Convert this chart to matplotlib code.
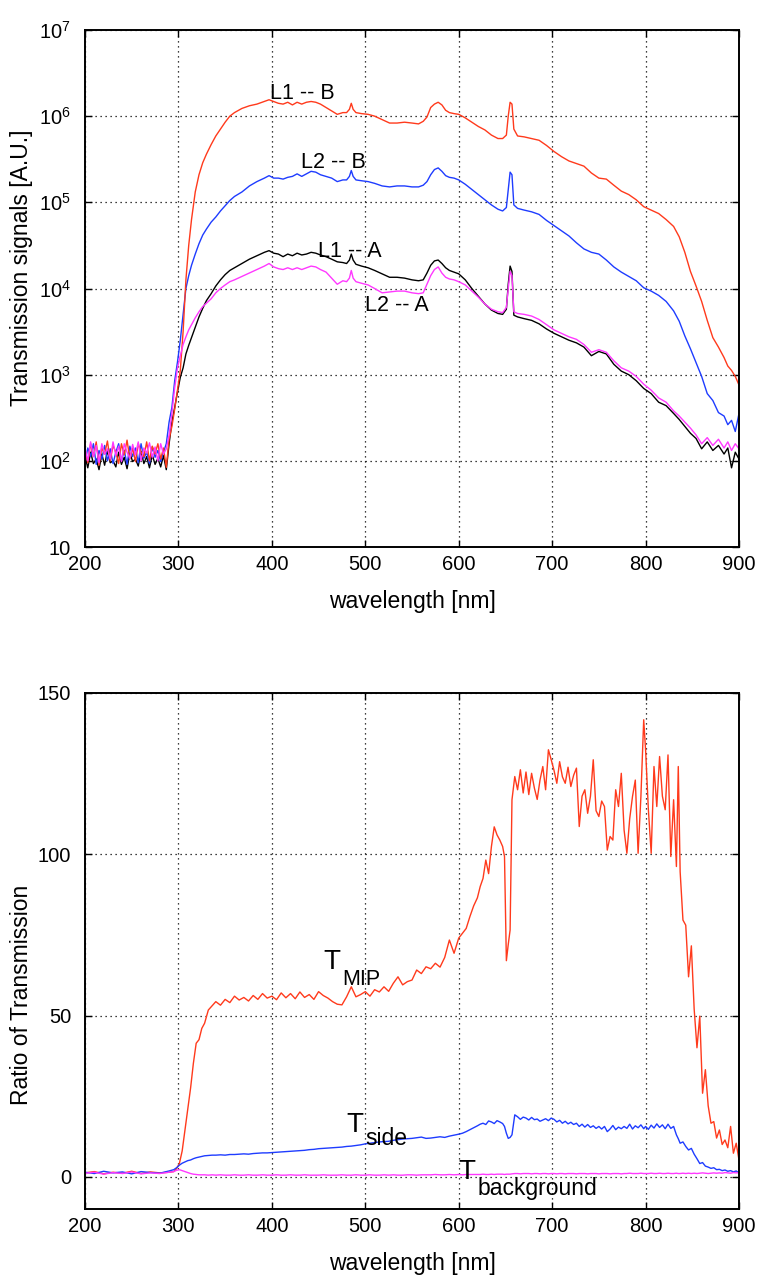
import matplotlib
matplotlib.use("Agg")
import matplotlib.pyplot as plt

plt.rcParams['font.family'] = ['Liberation Sans', 'DejaVu Sans']
plt.rcParams['mathtext.fontset'] = 'custom'
plt.rcParams['mathtext.rm'] = 'Liberation Sans'

# ---------------- top panel data (wavelength in nm, signal in A.U.) ----------------
wl_top = [200, 203, 206, 209, 212, 215, 218, 221, 224, 227,
          230, 233, 236, 239, 242, 245, 248, 251, 254, 257,
          260, 263, 266, 269, 272, 275, 278, 281, 284, 287,
          290, 293, 296, 299, 302, 305, 308, 311, 314, 318,
          322, 326, 330, 335, 340, 345, 350, 355, 360, 368,
          376, 384, 392, 397, 402, 407, 412, 417, 422, 427,
          432, 437, 442, 447, 452, 458, 464, 470, 476, 480,
          483, 485, 487, 490, 496, 503, 510, 518, 526, 534,
          542, 550, 557, 562, 566, 570, 574, 578, 582, 586,
          590, 595, 600, 607, 614, 621, 628, 635, 642, 647,
          651, 653, 655, 657, 659, 663, 670, 678, 686, 694,
          702, 710, 718, 726, 734, 742, 750, 758, 766, 774,
          782, 790, 798, 806, 814, 822, 830, 836, 842, 848,
          854, 860, 866, 872, 878, 884, 888, 892, 896, 900]

l1_b = [132, 95, 158, 112, 166, 89, 141, 120, 170, 100,
        151, 126, 93, 158, 117, 174, 105, 141, 98, 158,
        126, 112, 166, 100, 148, 120, 158, 105, 141, 84,
        178, 251, 398, 661, 1120, 3160, 12600, 31600, 63100, 132000,
        209000, 288000, 363000, 468000, 589000, 708000, 851000, 1.0e6, 1.1e6, 1.23e6,
        1.32e6, 1.38e6, 1.48e6, 1.55e6, 1.48e6, 1.41e6, 1.38e6, 1.45e6, 1.35e6, 1.45e6,
        1.38e6, 1.45e6, 1.48e6, 1.45e6, 1.38e6, 1.26e6, 1.15e6, 1.05e6, 1.1e6, 1.1e6,
        1.2e6, 1.41e6, 1.2e6, 1.1e6, 1.07e6, 1.05e6, 1.0e6, 912000, 832000, 832000,
        851000, 832000, 813000, 871000, 977000, 1.26e6, 1.38e6, 1.45e6, 1.35e6, 1.17e6,
        1.1e6, 1.07e6, 1.05e6, 955000, 851000, 759000, 692000, 603000, 550000, 550000,
        603000, 1.0e6, 1.45e6, 1.38e6, 708000, 589000, 575000, 550000, 525000, 457000,
        389000, 339000, 302000, 282000, 263000, 219000, 191000, 186000, 158000, 135000,
        123000, 107000, 89100, 81300, 74100, 63100, 52500, 39800, 26300, 15800,
        10700, 7080, 4270, 2690, 2090, 1580, 1260, 1120, 955, 759]

l2_b = [95, 141, 112, 158, 91, 132, 105, 151, 100, 138,
        93, 126, 158, 100, 132, 91, 148, 112, 141, 95,
        158, 107, 126, 93, 145, 110, 132, 98, 126, 158,
        282, 417, 851, 1410, 2510, 5010, 10000, 14100, 18600, 25100,
        33100, 41700, 49000, 58900, 67600, 79400, 91200, 105000, 117000, 132000,
        155000, 174000, 191000, 204000, 191000, 191000, 186000, 195000, 200000, 214000,
        200000, 214000, 229000, 224000, 209000, 200000, 191000, 174000, 182000, 182000,
        200000, 234000, 200000, 182000, 178000, 174000, 166000, 155000, 151000, 155000,
        155000, 151000, 151000, 158000, 174000, 209000, 240000, 251000, 229000, 204000,
        195000, 191000, 182000, 162000, 141000, 123000, 107000, 93300, 83200, 79400,
        87100, 141000, 224000, 209000, 93300, 85100, 81300, 77600, 72400, 61700,
        53700, 46800, 40700, 33900, 28800, 26300, 25100, 21400, 17800, 15500,
        13800, 12300, 10200, 9330, 8320, 7080, 5500, 4170, 2820, 2000,
        1380, 955, 603, 501, 363, 331, 263, 295, 219, 355]

l1_a = [112, 83, 126, 93, 105, 79, 120, 89, 132, 95,
        100, 85, 126, 91, 110, 81, 123, 98, 105, 87,
        129, 93, 112, 83, 117, 91, 107, 85, 115, 79,
        158, 282, 417, 631, 933, 1200, 1740, 2190, 2690, 3550,
        4680, 5890, 7240, 8710, 10700, 12600, 14500, 16200, 17400, 19500,
        21900, 24000, 26300, 27500, 25700, 25100, 23400, 25100, 24000, 25700,
        24500, 25100, 26300, 25700, 24500, 23400, 21900, 20400, 20000, 19500,
        21400, 25100, 21400, 19100, 18200, 17400, 16200, 14800, 13500, 13500,
        13200, 12600, 12300, 12600, 15100, 18600, 20900, 21400, 19500, 17400,
        16200, 15500, 14800, 12600, 10000, 8130, 6610, 5620, 5130, 5010,
        5750, 11200, 18200, 15800, 4900, 4680, 4470, 4270, 3890, 3390,
        3020, 2750, 2510, 2340, 2090, 1660, 1860, 1740, 1320, 1100,
        1000, 851, 692, 603, 479, 437, 355, 302, 251, 209,
        182, 138, 166, 132, 151, 120, 141, 83, 126, 105]

l2_a = [141, 100, 166, 112, 151, 95, 158, 120, 138, 105,
        166, 115, 148, 98, 158, 126, 107, 155, 117, 166,
        100, 141, 123, 162, 110, 145, 100, 158, 120, 138,
        200, 355, 708, 1200, 1660, 2240, 2750, 3310, 3800, 4570,
        5370, 6170, 6760, 7590, 8910, 10000, 11000, 12000, 12600, 13800,
        15100, 16600, 18200, 19500, 17800, 17000, 16600, 17400, 16600, 17400,
        16600, 17400, 18200, 17800, 16600, 15500, 13200, 11200, 12300, 12000,
        13200, 16200, 13200, 12000, 11500, 11000, 10000, 8910, 9120, 9330,
        9330, 8910, 8710, 8910, 11200, 14100, 16600, 17800, 15100, 13500,
        12900, 12600, 12000, 11000, 9330, 7940, 6610, 5750, 5370, 5250,
        6030, 10000, 15800, 14100, 5370, 5130, 5010, 4790, 4370, 3800,
        3310, 3020, 2750, 2570, 2240, 1820, 1950, 1820, 1450, 1200,
        1100, 955, 776, 661, 537, 479, 380, 331, 282, 240,
        200, 158, 186, 151, 178, 141, 166, 132, 158, 138]

# ---------------- bottom panel data (ratio of transmission) ----------------
wl_bot = [200, 210, 220, 230, 240, 250, 260, 270, 280, 290,
          295, 298, 301, 304, 307, 310, 313, 316, 319, 322,
          325, 328, 332, 336, 340, 345, 350, 355, 360, 365,
          370, 375, 380, 385, 390, 395, 400, 405, 410, 415,
          420, 425, 430, 435, 440, 445, 450, 455, 460, 465,
          470, 475, 480, 485, 490, 495, 500, 505, 510, 515,
          520, 525, 530, 535, 540, 545, 550, 555, 560, 565,
          570, 575, 580, 585, 590, 595, 600, 604, 608, 612,
          616, 620, 623, 626, 629, 632, 635, 638, 641, 644,
          647, 649, 651, 653, 655, 657, 660, 663, 666, 669,
          672, 675, 678, 681, 684, 687, 690, 693, 696, 699,
          702, 705, 708, 711, 714, 717, 720, 723, 726, 729,
          732, 735, 738, 741, 744, 747, 750, 753, 756, 759,
          762, 765, 768, 771, 774, 777, 780, 783, 786, 789,
          792, 795, 798, 800, 803, 806, 809, 812, 815, 818,
          821, 824, 827, 830, 833, 835, 837, 840, 843, 846,
          849, 852, 855, 858, 861, 864, 867, 870, 873, 876,
          879, 882, 885, 888, 891, 894, 897, 900]

t_mip = [1.2, 1.6, 0.9, 1.4, 1.1, 1.7, 1.0, 1.5, 1.2, 1.4,
         1.6, 2.5, 4.1, 8.0, 14.5, 21.0, 27.5, 35.2, 41.4, 42.5,
         46.0, 47.6, 51.7, 53.0, 54.3, 53.2, 55.0, 54.0, 56.0, 54.8,
         55.6, 54.5, 56.2, 55.0, 56.8, 55.4, 56.0, 54.9, 57.0, 55.5,
         56.8, 55.2, 57.3, 55.6, 56.5, 55.0, 57.4, 56.2, 55.4, 54.3,
         53.5, 53.3, 55.8, 58.9, 55.8, 56.5, 57.4, 56.0, 58.0, 57.3,
         58.9, 57.5, 60.0, 62.0, 59.5, 60.5, 61.0, 64.1, 63.0, 65.1,
         64.5, 66.2, 65.0, 68.0, 73.4, 69.3, 74.0, 75.5, 77.0, 80.7,
         84.0, 86.5, 90.0, 92.5, 98.2, 94.0, 102.4, 108.5, 106.0, 104.4,
         102.4, 99.3, 67.0, 72.0, 76.5, 116.9, 124.1, 120.0, 126.2, 119.0,
         125.5, 118.5, 125.1, 120.5, 117.0, 123.0, 127.2, 120.0, 132.4, 129.3,
         126.0, 122.0, 128.7, 124.0, 122.0, 127.0, 121.0, 124.5, 126.7, 108.6,
         118.0, 120.0, 112.7, 118.0, 129.3, 113.5, 111.7, 116.5, 114.8, 101.3,
         105.5, 104.4, 120.0, 114.8, 125.1, 107.5, 100.3, 111.0, 117.9, 123.0,
         100.3, 117.9, 141.7, 132.4, 113.8, 100.3, 127.2, 114.8, 130.3, 118.0,
         113.8, 130.8, 99.3, 116.9, 96.2, 127.2, 94.6, 79.6, 78.0, 62.0,
         71.6, 52.0, 40.0, 49.8, 25.9, 33.2, 22.0, 16.6, 17.1, 12.0,
         14.5, 10.0, 11.4, 9.0, 15.6, 7.3, 10.4, 5.2]

t_side = [1.4, 1.0, 1.7, 1.2, 1.5, 0.9, 1.6, 1.3, 1.1, 1.8,
          2.2, 2.8, 3.6, 4.2, 4.6, 5.0, 5.2, 5.6, 5.9, 6.1,
          6.3, 6.5, 6.6, 6.7, 6.7, 6.8, 6.7, 6.9, 6.9, 7.0,
          7.1, 7.0, 7.2, 7.3, 7.4, 7.4, 7.5, 7.6, 7.7, 7.8,
          7.9, 8.0, 8.1, 8.2, 8.4, 8.5, 8.7, 8.8, 8.9, 9.0,
          9.1, 9.2, 9.4, 9.5, 9.7, 9.9, 10.2, 10.4, 10.6, 10.8,
          10.9, 11.0, 11.3, 11.5, 11.7, 11.8, 11.9, 12.1, 12.3, 11.9,
          12.0, 12.2, 12.4, 12.2, 12.6, 12.9, 13.2, 13.5, 14.0, 14.6,
          15.2, 15.8, 16.3, 16.6, 16.2, 17.3, 17.0, 16.5, 17.4, 17.0,
          16.5, 15.6, 13.5, 11.9, 12.2, 13.0, 19.2, 18.6, 17.8, 18.5,
          18.2, 17.6, 18.4, 17.7, 17.9, 17.2, 17.6, 18.0, 17.4, 18.2,
          17.8, 17.0, 17.5, 16.6, 17.2, 16.4, 16.9, 16.2, 16.6, 15.6,
          16.3, 15.4, 16.2, 15.3, 15.8, 15.0, 15.6, 14.8, 15.6, 14.0,
          14.8, 15.9, 14.6, 15.4, 14.9, 15.6, 15.0, 16.3, 14.8, 15.8,
          15.2, 16.1, 14.9, 15.6, 14.7, 16.0, 15.1, 16.4, 15.3, 16.1,
          14.9, 16.3, 15.0, 15.6, 13.0, 11.8, 10.4, 10.8, 9.4, 8.3,
          8.8, 7.0, 5.6, 4.1, 4.4, 3.3, 3.0, 2.6, 2.8, 2.2,
          2.3, 1.9, 2.1, 1.7, 1.9, 1.5, 1.8, 1.2]

t_background = [1.1, 1.4, 0.8, 1.3, 1.0, 1.5, 0.9, 1.2, 1.0, 1.4,
                1.6, 2.0, 2.2, 1.9, 1.6, 1.3, 1.0, 0.8, 0.7, 0.6,
                0.6, 0.6, 0.5, 0.6, 0.5, 0.6, 0.5, 0.5, 0.6, 0.5,
                0.5, 0.6, 0.5, 0.5, 0.6, 0.5, 0.5, 0.6, 0.5, 0.5,
                0.6, 0.5, 0.5, 0.6, 0.5, 0.5, 0.5, 0.6, 0.5, 0.5,
                0.5, 0.6, 0.5, 0.5, 0.6, 0.5, 0.5, 0.6, 0.5, 0.5,
                0.6, 0.5, 0.6, 0.5, 0.5, 0.6, 0.6, 0.5, 0.6, 0.6,
                0.6, 0.7, 0.6, 0.6, 0.7, 0.6, 0.7, 0.6, 0.7, 0.7,
                0.7, 0.7, 0.7, 0.8, 0.7, 0.7, 0.8, 0.7, 0.8, 0.8,
                0.8, 0.7, 0.8, 0.8, 0.8, 0.9, 1.0, 1.0, 0.9, 1.0,
                1.0, 1.0, 0.9, 1.0, 1.0, 0.9, 1.0, 1.0, 0.9, 1.0,
                1.0, 0.9, 1.0, 1.0, 0.9, 1.0, 1.0, 1.0, 0.9, 1.0,
                1.0, 1.0, 0.9, 1.0, 1.0, 1.0, 0.9, 1.0, 1.0, 1.0,
                0.9, 1.0, 1.0, 1.0, 0.9, 1.0, 1.0, 1.1, 1.0, 1.0,
                1.0, 1.1, 1.0, 1.0, 1.0, 1.1, 1.0, 1.0, 1.1, 1.0,
                1.0, 1.1, 1.0, 1.0, 1.1, 1.0, 1.0, 1.1, 1.0, 1.1,
                1.0, 1.1, 1.0, 1.1, 1.2, 1.1, 1.0, 1.1, 1.2, 1.1,
                1.2, 1.1, 1.3, 1.2, 1.1, 1.3, 1.2, 1.3]

x_ticks = [200, 300, 400, 500, 600, 700, 800, 900]
top_yticks = [10, 1e2, 1e3, 1e4, 1e5, 1e6, 1e7]
top_ylabels = ['10', r'$\mathregular{10^2}$', r'$\mathregular{10^3}$', r'$\mathregular{10^4}$',
               r'$\mathregular{10^5}$', r'$\mathregular{10^6}$', r'$\mathregular{10^7}$']
bot_yticks = [0, 50, 100, 150]

RED = '#ff3a1c'
BLUE = '#1e3cff'
MAGENTA = '#ff38ff'

fig = plt.figure(figsize=(7.61, 12.76), dpi=100)
ax1 = fig.add_axes([0.1117, 0.5713, 0.8594, 0.4052])
ax2 = fig.add_axes([0.1117, 0.0525, 0.8594, 0.4044])


def style_axes(ax):
    ax.set_xlim(200, 900)
    ax.set_xticks(x_ticks)
    ax.grid(True, color='black', linestyle=(0, (1, 3)), linewidth=0.9)
    ax.tick_params(direction='in', length=5, width=1, top=True, right=True,
                   labelsize=14.5)
    ax.tick_params(axis='x', pad=6)
    ax.tick_params(axis='y', pad=10)
    ax.tick_params(which='minor', length=0)
    for s in ax.spines.values():
        s.set_linewidth(1.4)
    ax.set_xlabel('wavelength [nm]', fontsize=16.5, labelpad=11)


# top panel
ax1.plot(wl_top, l1_a, color='black', lw=1.0)
ax1.plot(wl_top, l2_b, color=BLUE, lw=1.0)
ax1.plot(wl_top, l1_b, color=RED, lw=1.0)
ax1.plot(wl_top, l2_a, color=MAGENTA, lw=1.0)
ax1.set_yscale('log')
ax1.set_ylim(10, 1e7)
ax1.set_yticks(top_yticks)
ax1.set_yticklabels(top_ylabels)
style_axes(ax1)
ax1.set_ylabel('Transmission signals [A.U.]', fontsize=16.5)
ax1.yaxis.set_label_coords(-0.08, 0.54)

ax1.text(398, 1.58e6, 'L1 -- B', fontsize=15.5)
ax1.text(431, 2.48e5, 'L2 -- B', fontsize=15.5)
ax1.text(449, 2.35e4, 'L1 -- A', fontsize=15.5)
ax1.text(500, 5.5e3, 'L2 -- A', fontsize=15.5)

# bottom panel
ax2.plot(wl_bot, t_mip, color=RED, lw=1.0)
ax2.plot(wl_bot, t_side, color=BLUE, lw=1.0)
ax2.plot(wl_bot, t_background, color=MAGENTA, lw=1.0)
ax2.set_ylim(-10, 150)
ax2.set_yticks(bot_yticks)
style_axes(ax2)
ax2.set_ylabel('Ratio of Transmission', fontsize=16.5)
ax2.yaxis.set_label_coords(-0.08, 0.415)

ax2.text(455, 64.4, 'T', fontsize=20)
ax2.text(475, 59.5, 'MIP', fontsize=15.5)
ax2.text(480, 14.0, 'T', fontsize=20)
ax2.text(500, 9.8, 'side', fontsize=16.5)
ax2.text(600, -0.7, 'T', fontsize=20)
ax2.text(620, -5.7, 'background', fontsize=16.5)

fig.savefig('out.png', dpi=100)
